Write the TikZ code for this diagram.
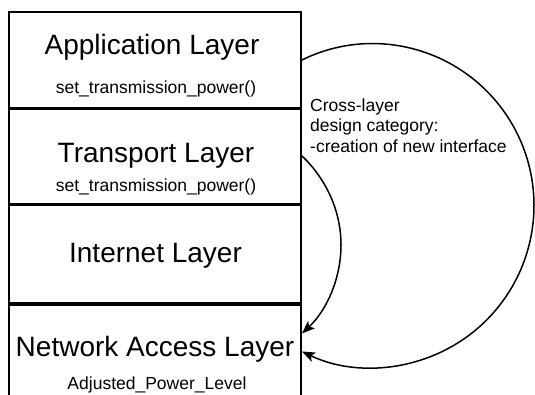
\documentclass[tikz,border=0pt]{standalone}
\usepackage{fontspec}
\setmainfont{Liberation Sans}
\usetikzlibrary{arrows.meta}
\begin{document}
\begin{tikzpicture}[x=1pt,y=-1pt,
  layer/.style={draw, line width=2pt, minimum width=292pt, inner sep=0pt},
  bigtext/.style={font=\fontsize{28}{32}\selectfont, inner sep=0pt},
  smalltext/.style={font=\fontsize{17.5}{20.5}\selectfont, inner sep=0pt},
  divider/.style={line width=3pt},
  link/.style={line width=1.5pt, -{Stealth[length=13pt,width=10pt,inset=3pt]}}]
\useasboundingbox (0,0) rectangle (535,395);

% protocol stack
\node[layer, minimum height=96pt] (app)   at (155,60)    {};
\node[layer, minimum height=96pt] (trans) at (155,156)   {};
\node[layer, minimum height=99pt] (inet)  at (155,253.5) {};
\node[layer, minimum height=97pt] (nal)   at (155,351.5) {};

\draw[divider] (app.south west)   -- (app.south east);
\draw[divider] (trans.south west) -- (trans.south east);
\draw[divider] (inet.south west)  -- (inet.south east);

% layer names and calls
\node[bigtext, anchor=base]   (appname)   at (152,55)  {Application Layer};
\node[smalltext, anchor=base] (appfn)     at (156,94)  {set\_transmission\_power()};
\node[bigtext, anchor=base]   (transname) at (156,163) {Transport Layer};
\node[smalltext, anchor=base] (transfn)   at (156,192) {set\_transmission\_power()};
\node[bigtext, anchor=base]   (inetname)  at (155.5,262) {Internet Layer};
\node[bigtext, anchor=base]   (nalname)   at (155,356) {Network Access Layer};
\node[smalltext, anchor=base] (nalvar)    at (157,389) {Adjusted\_Power\_Level};

% cross-layer note
\node[smalltext, anchor=north west, align=left] (note) at (310,98.2)
  {Cross-layer\\design category:\\-creation of new interface};

% new interfaces down to the network access layer (circular arcs)
\coordinate (tip) at (302,333.5);
\draw[link] (app.east)
  .. controls (351.1,35.5) and (410.3,38.5) .. (457.6,67.9)
  .. controls (504.9,97.3) and (533.8,149.1) .. (534.0,204.8)
  .. controls (534.2,260.5) and (505.8,312.5) .. (458.8,342.3)
  .. controls (411.8,372.1) and (352.6,375.7) .. (nal.east);
\draw[link] (trans.east)
  .. controls (326.3,179.1) and (340.9,211.0) .. (341.0,244.6)
  .. controls (341.1,278.2) and (326.8,310.2) .. (tip);
\end{tikzpicture}
\end{document}
